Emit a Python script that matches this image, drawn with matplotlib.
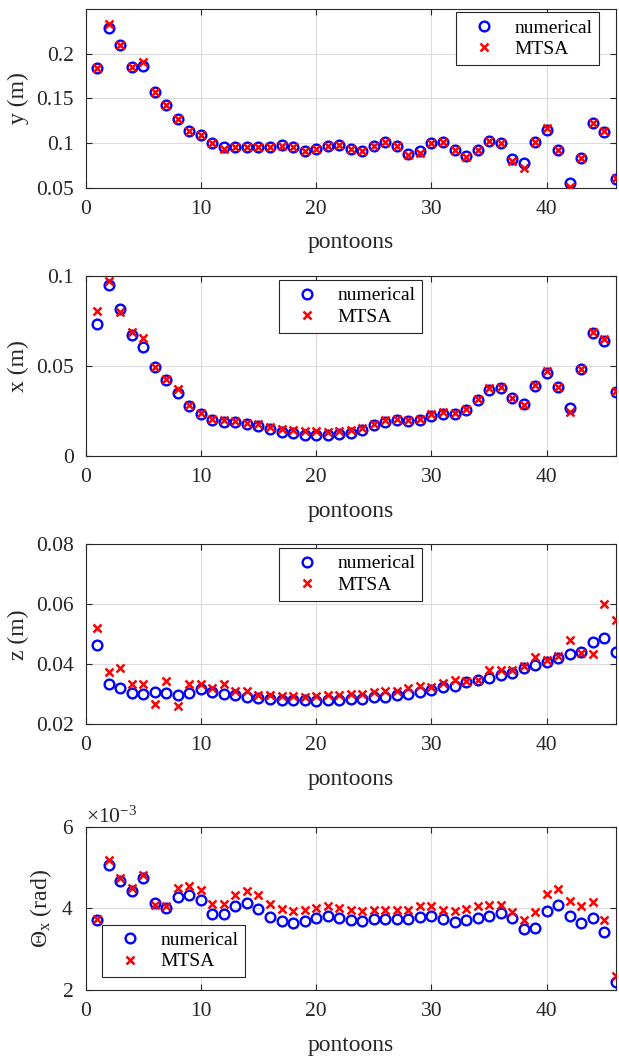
import matplotlib.pyplot as plt
import numpy as np
from matplotlib.ticker import FuncFormatter

plt.rcParams['font.family'] = ['Liberation Serif', 'DejaVu Serif']
plt.rcParams['mathtext.fontset'] = 'custom'
plt.rcParams['mathtext.rm'] = 'Liberation Serif'
plt.rcParams['mathtext.it'] = 'Liberation Serif:italic'

pontoons = np.arange(1, 47)

# sway y (m)
y_num = [0.184, 0.2285, 0.210, 0.185, 0.1863, 0.157, 0.1426, 0.1267, 0.113, 0.1085,
         0.1004, 0.0959, 0.0959, 0.096, 0.0955, 0.096, 0.0974, 0.0952, 0.0915, 0.093,
         0.0967, 0.0974, 0.093, 0.0911, 0.0967, 0.1015, 0.0967, 0.0881, 0.0914, 0.1004,
         0.1007, 0.0918, 0.0859, 0.0922, 0.1022, 0.100, 0.0826, 0.0774, 0.101, 0.115,
         0.0925, 0.0548, 0.0837, 0.1225, 0.1118, 0.0593]
y_mtsa = [0.184, 0.2337, 0.210, 0.1855, 0.1907, 0.157, 0.1426, 0.1267, 0.113, 0.1085,
          0.1004, 0.0937, 0.0955, 0.096, 0.0952, 0.0955, 0.097, 0.095, 0.0907, 0.093,
          0.0967, 0.0974, 0.093, 0.0911, 0.0967, 0.1012, 0.0967, 0.087, 0.089, 0.0995,
          0.1007, 0.0918, 0.084, 0.0922, 0.102, 0.0995, 0.0796, 0.0722, 0.101, 0.1166,
          0.0925, 0.0511, 0.0837, 0.1225, 0.1136, 0.0604]

# surge x (m)
x_num = [0.0731, 0.0948, 0.0815, 0.0672, 0.0603, 0.0494, 0.0425, 0.0351, 0.0276, 0.0231,
         0.0198, 0.019, 0.0187, 0.0179, 0.0168, 0.0149, 0.0134, 0.0127, 0.0119, 0.0119,
         0.0119, 0.0123, 0.013, 0.0142, 0.0172, 0.019, 0.0202, 0.0194, 0.0202, 0.0224,
         0.0235, 0.0235, 0.0258, 0.0313, 0.0369, 0.0377, 0.0321, 0.0291, 0.0388, 0.0463,
         0.0381, 0.0269, 0.0481, 0.0683, 0.0638, 0.0358]
x_mtsa = [0.0806, 0.0974, 0.0799, 0.069, 0.0653, 0.0494, 0.0429, 0.0373, 0.0284, 0.0239,
          0.0205, 0.0198, 0.0194, 0.0185, 0.0179, 0.016, 0.0149, 0.0142, 0.0138, 0.0138,
          0.0134, 0.0138, 0.0142, 0.0153, 0.0179, 0.0198, 0.0205, 0.0202, 0.0205, 0.0231,
          0.0243, 0.0239, 0.0261, 0.0317, 0.0377, 0.0381, 0.0325, 0.0284, 0.0392, 0.047,
          0.0384, 0.0243, 0.0481, 0.069, 0.0649, 0.0362]

# heave z (m)
z_num = [0.0463, 0.0333, 0.0321, 0.0303, 0.0302, 0.0307, 0.0303, 0.0298, 0.0304, 0.0317,
         0.0309, 0.030, 0.0297, 0.0291, 0.0289, 0.0284, 0.0282, 0.0281, 0.028, 0.0279,
         0.028, 0.0281, 0.0283, 0.0286, 0.0291, 0.0292, 0.0298, 0.0302, 0.0307, 0.0316,
         0.0323, 0.0329, 0.034, 0.0347, 0.0356, 0.0364, 0.0371, 0.0387, 0.0398, 0.0407,
         0.0422, 0.0436, 0.0442, 0.0476, 0.0487, 0.044]
z_mtsa = [0.052, 0.0373, 0.0389, 0.0336, 0.0336, 0.0267, 0.0343, 0.0261, 0.0336, 0.0333,
          0.032, 0.0336, 0.0311, 0.0311, 0.0298, 0.0298, 0.0296, 0.0293, 0.0292, 0.0296,
          0.0298, 0.0298, 0.0302, 0.030, 0.0309, 0.0311, 0.0311, 0.0322, 0.0329, 0.0323,
          0.0338, 0.0347, 0.0344, 0.0349, 0.038, 0.038, 0.038, 0.0393, 0.0426, 0.0416,
          0.0427, 0.048, 0.0438, 0.0433, 0.0602, 0.0549]

# roll theta_x (x 1e-3 rad)
th_num = [3.717, 5.053, 4.68, 4.437, 4.745, 4.12, 4.0, 4.28, 4.33, 4.2,
          3.854, 3.87, 4.065, 4.14, 3.976, 3.79, 3.684, 3.64, 3.69, 3.77,
          3.81, 3.77, 3.71, 3.69, 3.73, 3.74, 3.73, 3.74, 3.79, 3.81,
          3.74, 3.676, 3.71, 3.77, 3.82, 3.886, 3.77, 3.5, 3.53, 3.94,
          4.08, 3.806, 3.65, 3.77, 3.42, 2.19]
th_mtsa = [3.74, 5.18, 4.745, 4.50, 4.81, 4.08, 4.065, 4.49, 4.55, 4.45,
           4.1, 4.1, 4.32, 4.42, 4.316, 4.11, 3.99, 3.935, 3.95, 4.016,
           4.065, 4.016, 3.95, 3.935, 3.97, 3.97, 3.97, 3.97, 4.05, 4.065,
           3.97, 3.935, 3.976, 4.05, 4.08, 4.08, 3.92, 3.72, 3.9, 4.36,
           4.48, 4.19, 4.065, 4.16, 3.71, 2.35]

W, H = 619, 1059
fig = plt.figure(figsize=(W / 100, H / 100), dpi=100)

# axes boxes in pixels: (top, bottom)
boxes = [(9, 187.7), (276, 456), (544.3, 724.3), (826.7, 990)]
left, right = 85.5, 616

panels = [
    (y_num, y_mtsa, 1.0, 'y (m)', (0.05, 0.25), [0.05, 0.1, 0.15, 0.2]),
    (x_num, x_mtsa, 1.0, 'x (m)', (0, 0.1), [0, 0.05, 0.1]),
    (z_num, z_mtsa, 1.0, 'z (m)', (0.02, 0.08), [0.02, 0.04, 0.06, 0.08]),
    (th_num, th_mtsa, 1e-3, r'$\Theta_{\rm x}$ (rad)', (2e-3, 6e-3), [2e-3, 4e-3, 6e-3]),
]
legend_pos = [('upper right', (0.9685, 0.9815)),
              ('upper center', (0.5, 0.978)),
              ('upper center', (0.5, 0.979)),
              ('lower left', (0.0315, 0.078))]

axc = '#262626'
for i, (num, mtsa, scale, ylab, ylim, yticks) in enumerate(panels):
    top, bot = boxes[i]
    ax = fig.add_axes([left / W, 1 - bot / H, (right - left) / W, (bot - top) / H])
    ax.plot(pontoons, np.array(num) * scale, 'o', mfc='none', mec=(0, 0, 1),
            ms=7, mew=1.7, label='numerical', zorder=3)
    ax.plot(pontoons, np.array(mtsa) * scale, 'x', color=(1, 0, 0),
            ms=5.5, mew=1.8, label='MTSA', zorder=4)
    ax.set_xlim(0, 46)
    ax.set_ylim(*ylim)
    ax.set_xticks([0, 10, 20, 30, 40])
    ax.set_yticks(yticks)
    ax.grid(True, color='#dcdcdc', linewidth=0.8)
    ax.set_axisbelow(True)
    ax.tick_params(direction='in', top=True, right=True, length=4, width=0.8,
                   labelsize=15.5, pad=8.5, colors=axc)
    for s in ax.spines.values():
        s.set_color(axc)
        s.set_linewidth(0.8)
    if scale == 1.0:
        ax.yaxis.set_major_formatter(FuncFormatter(lambda v, p: '%g' % round(v, 4)))
    else:
        ax.ticklabel_format(axis='y', style='sci', scilimits=(-3, -3), useMathText=True)
        ax.yaxis.get_offset_text().set_fontsize(15.5)
        ax.yaxis.get_offset_text().set_color(axc)
    ax.set_xlabel('pontoons', fontsize=17, color=axc, labelpad=10)
    ax.set_ylabel(ylab, fontsize=17, color=axc, labelpad=5)
    loc, anchor = legend_pos[i]
    leg = ax.legend(loc=loc, bbox_to_anchor=anchor, borderaxespad=0, fontsize=14,
                    fancybox=False, framealpha=1, edgecolor=axc, borderpad=0.35,
                    handlelength=2.2, handletextpad=0.45, labelspacing=0.2)
    leg.get_frame().set_linewidth(0.8)

plt.savefig('out.png', dpi=100)
